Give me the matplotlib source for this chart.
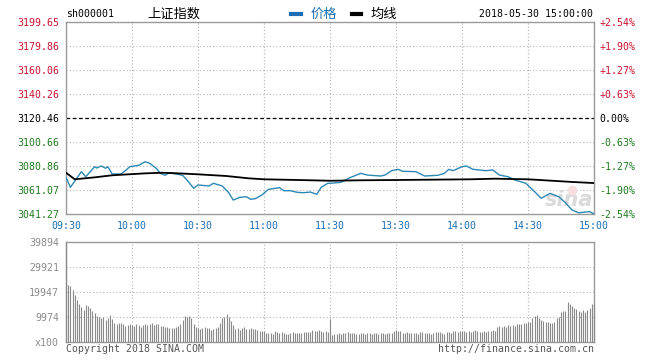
import matplotlib.pyplot as plt
from matplotlib.lines import Line2D

# 价格走势 (分钟, 点位)
price_min = [0, 2, 7, 9, 13, 14, 16, 18, 19, 21, 25, 27, 29, 33, 36, 38, 41, 43, 45, 47,
             50, 53, 55, 58, 60, 65, 67, 71, 74, 76, 79, 82, 84, 86, 89, 92, 97, 99, 102, 105,
             108, 111, 114, 116, 119, 120, 125, 129, 134, 137, 143, 145, 148, 151, 153, 159,
             163, 169, 172, 174, 176, 180, 182, 185, 191, 194, 197, 201, 204, 209, 213, 216,
             220, 224, 227, 230, 233, 238, 240]
price = [3071.5, 3063.3, 3076.2, 3072.0, 3080.3, 3079.2, 3080.9, 3079.0, 3080.3, 3074.3,
         3074.3, 3077.0, 3080.3, 3081.4, 3084.4, 3083.1, 3079.0, 3074.8, 3073.2, 3075.3,
         3074.3, 3073.2, 3069.3, 3062.5, 3065.2, 3064.4, 3066.6, 3064.4, 3058.8, 3052.8,
         3055.0, 3055.5, 3053.4, 3053.9, 3056.9, 3061.6, 3063.0, 3060.5, 3060.5, 3059.2,
         3058.8, 3059.4, 3057.5, 3063.3, 3066.6, 3066.6, 3067.4, 3071.2, 3074.8, 3073.4,
         3072.6, 3073.4, 3077.0, 3078.1, 3076.5, 3076.2, 3072.6, 3073.2, 3074.8, 3078.1,
         3077.0, 3080.3, 3080.9, 3078.1, 3077.0, 3077.6, 3073.4, 3072.0, 3069.3, 3066.6,
         3059.7, 3054.2, 3058.3, 3055.5, 3050.6, 3044.6, 3042.3, 3043.2, 3041.4]

# 均线
avg_min = [0, 4, 13, 21, 36, 44, 51, 60, 73, 83, 90, 111, 120, 135, 150, 184, 195, 210, 221, 230, 240]
avg = [3075.3, 3069.9, 3071.5, 3073.2, 3074.8, 3075.3, 3074.8, 3074.0, 3072.6, 3070.7,
       3069.9, 3069.1, 3068.7, 3069.1, 3069.3, 3069.9, 3070.4, 3069.9, 3068.7, 3067.7, 3066.8]

# 成交量 (x100), 每分钟一根
volume = [39894, 22800, 22400, 20700, 18800, 16800, 15000, 14100, 12800, 14700,
          14400, 13400, 12300, 11400, 10500, 9900, 9700, 9900, 8900, 9500,
          10800, 9000, 7400, 7300, 7500, 7500, 7200, 6500, 6800, 7200,
          6800, 6400, 7000, 6600, 6100, 6900, 7200, 6600, 7000, 7400,
          6900, 7100, 7300, 6200, 6300, 6100, 6000, 5500, 5700, 5600,
          6000, 6500, 7300, 8600, 10500, 9800, 10200, 9600, 7200, 5800,
          5400, 5200, 5700, 5800, 5400, 5600, 4900, 5100, 5600, 6000,
          7600, 9500, 9800, 11300, 9900, 8300, 6700, 5300, 5400, 4900,
          5500, 6000, 5200, 5100, 5600, 5200, 5000, 4600, 4400, 4500,
          4200, 3700, 3500, 3600, 3300, 4300, 4100, 3400, 3800, 3500,
          3200, 3300, 3600, 3800, 3500, 3400, 3700, 3500, 4000, 4100,
          3800, 3900, 4600, 4400, 4200, 4700, 4400, 4100, 4400, 3800,
          9000,
          2700, 3000, 3100, 3400, 3300, 3500, 3500, 3800, 3400, 3600,
          3500, 3200, 3300, 3400, 3700, 3300, 3600, 3400, 3200, 3500,
          3600, 3300, 3400, 3500, 3300, 3600, 3400, 3700, 4300, 4800,
          4500, 4300, 3700, 3500, 3800, 3400, 3600, 3500, 3700, 3300,
          4000, 3900, 3600, 3700, 3400, 3300, 3500, 3800, 3900, 3800,
          3700, 3300, 3900, 4100, 3500, 4300, 4400, 4100, 4200, 4500,
          4300, 4100, 4200, 4000, 4400, 4700, 4300, 4100, 4000, 4200,
          4100, 4300, 4500, 4600, 4400, 6100, 6300, 6000, 6400, 6100,
          6700, 6500, 6800, 6300, 7000, 7200, 7000, 7500, 7400, 7800,
          8100, 9400, 10500, 10800, 9400, 8800, 8400, 8100, 7800, 7400,
          7600, 8100, 9400, 10100, 12100, 12400, 12400, 16100, 15000, 14400,
          13700, 13200, 12400, 11800, 12800, 12100, 12800, 13400, 15000, 14600]

prev_close = 3120.46
price_ticks = [3199.65, 3179.86, 3160.06, 3140.26, 3120.46, 3100.66, 3080.86, 3061.07, 3041.27]
pct_labels = ['+2.54%', '+1.90%', '+1.27%', '+0.63%', '0.00%', '-0.63%', '-1.27%', '-1.90%', '-2.54%']
time_ticks = [0, 30, 60, 90, 120, 150, 180, 210, 240]
time_labels = ['09:30', '10:00', '10:30', '11:00', '11:30', '13:30', '14:00', '14:30', '15:00']
vol_ticks = [0, 9973.5, 19947, 29920.5, 39894]
vol_labels = ['x100', '9974', '19947', '29921', '39894']

RED = '#c8102e'
GREEN = '#1e7a1e'
BLUE = '#1c6fb4'
LINE_BLUE = '#2d88b5'
GRID = '#b4b4b4'
SPINE = '#9a9a9a'
MONO = 'DejaVu Sans Mono'
FS = 7.1

W, H = 648, 360
fig = plt.figure(figsize=(W / 100, H / 100), dpi=100)
fig.patch.set_facecolor('white')


def fx(px):
    return px / W


def fy(py):
    return 1 - py / H


ax = fig.add_axes([fx(66), fy(214), fx(594) - fx(66), fy(22) - fy(214)])
axv = fig.add_axes([fx(66), fy(342), fx(594) - fx(66), fy(242) - fy(342)])

for a in (ax, axv):
    for s in a.spines.values():
        s.set_color(SPINE)
        s.set_linewidth(1.0)
    a.set_xlim(0, 240)
    a.tick_params(length=0)
    a.set_xticks(time_ticks)
    a.grid(True, axis='x', color=GRID, linestyle=(0, (1, 2)), linewidth=0.8)
    a.set_axisbelow(True)

# 价格图
ax.set_ylim(price_ticks[-1], price_ticks[0])
ax.set_yticks(price_ticks)
ax.set_yticklabels([f'{v:.2f}' for v in price_ticks], fontfamily=MONO, fontsize=FS)
for lbl, v in zip(ax.get_yticklabels(), price_ticks):
    lbl.set_color(RED if v > prev_close + 0.01 else (GREEN if v < prev_close - 0.01 else 'black'))
ax.tick_params(axis='y', pad=5)
for v in price_ticks[1:-1]:
    if abs(v - prev_close) < 0.01:
        ax.axhline(v, color='black', linestyle=(0, (3, 2)), linewidth=0.9, zorder=1)
    else:
        ax.axhline(v, color=GRID, linestyle=(0, (1, 2)), linewidth=0.8, zorder=0)
ax.set_xticklabels(time_labels, fontfamily=MONO, fontsize=FS, color=BLUE)
ax.tick_params(axis='x', pad=5)

ax2 = ax.twinx()
ax2.set_ylim(ax.get_ylim())
ax2.set_yticks(price_ticks)
ax2.set_yticklabels(pct_labels, fontfamily=MONO, fontsize=FS)
for lbl, v in zip(ax2.get_yticklabels(), price_ticks):
    lbl.set_color(RED if v > prev_close + 0.01 else (GREEN if v < prev_close - 0.01 else 'black'))
ax2.tick_params(length=0, pad=4)
for s in ax2.spines.values():
    s.set_visible(False)

ax.plot(price_min, price, color=LINE_BLUE, linewidth=1.0, zorder=3)
ax.plot(avg_min, avg, color='black', linewidth=1.3, zorder=4)

# 水印
ax.text(0.998, 0.075, 'sina', transform=ax.transAxes, fontsize=15, fontstyle='italic',
        fontweight='bold', color='#dadada', ha='right', va='center', zorder=2)
ax.plot([0.958], [0.125], 'o', transform=ax.transAxes, markersize=6, color='#f6dede',
        zorder=2)

# 成交量
axv.vlines(range(len(volume)), 0, volume, colors='#8a8a8a', linewidth=0.8, zorder=3,
           clip_on=False)
axv.set_ylim(0, vol_ticks[-1])
axv.set_yticks(vol_ticks)
axv.set_yticklabels(vol_labels, fontfamily=MONO, fontsize=FS, color='#8a8a8a')
axv.tick_params(axis='y', pad=5)
axv.set_xticklabels([])
for v in vol_ticks[1:-1]:
    axv.axhline(v, color=GRID, linestyle=(0, (1, 2)), linewidth=0.8, zorder=0)

# 顶部信息栏
fig.text(fx(66), fy(14), 'sh000001', fontfamily=MONO, fontsize=FS, va='center', ha='left')
fig.text(fx(147), fy(14), '上证指数', fontfamily=['Noto Sans CJK SC', 'DejaVu Sans'],
         fontsize=9.5, va='center', ha='left')
fig.add_artist(Line2D([fx(291), fx(301)], [fy(14), fy(14)], color=BLUE, linewidth=3,
                      transform=fig.transFigure))
fig.text(fx(311), fy(14), '价格', fontfamily=['Noto Sans CJK SC', 'DejaVu Sans'],
         fontsize=9.5, va='center', ha='left', color=BLUE)
fig.add_artist(Line2D([fx(352), fx(361)], [fy(14), fy(14)], color='black', linewidth=3,
                      transform=fig.transFigure))
fig.text(fx(371), fy(14), '均线', fontfamily=['Noto Sans CJK SC', 'DejaVu Sans'],
         fontsize=9.5, va='center', ha='left')
fig.text(fx(593), fy(14), '2018-05-30 15:00:00', fontfamily=MONO, fontsize=FS,
         va='center', ha='right')

# 底部版权
fig.text(fx(66), fy(349), 'Copyright 2018 SINA.COM', fontfamily=MONO, fontsize=FS,
         va='center', ha='left', color='#555555')
fig.text(fx(594), fy(349), 'http://finance.sina.com.cn', fontfamily=MONO, fontsize=FS,
         va='center', ha='right', color='#555555')

fig.savefig('out.png', dpi=100)
